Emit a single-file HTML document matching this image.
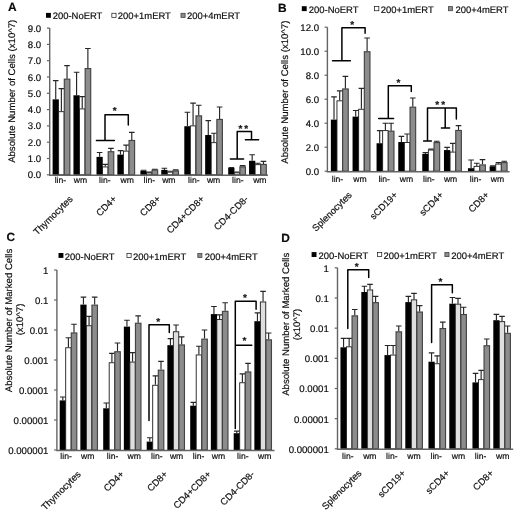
<!DOCTYPE html>
<html lang="en">
<head>
<meta charset="utf-8">
<title>Figure</title>
<style>
html,body{margin:0;padding:0;background:#fff;}
body{width:520px;height:515px;overflow:hidden;}
svg{display:block;}
svg text{font-family:"Liberation Sans", Arial, Helvetica, sans-serif;fill:#0c0c0c;stroke:#0c0c0c;stroke-width:0.18px;text-rendering:geometricPrecision;}
</style>
</head>
<body>
<svg width="520" height="515" viewBox="0 0 520 515">
<rect width="520" height="515" fill="#fff"/>
<g opacity="0.999">
<rect x="52.60" y="99.33" width="6.25" height="75.47" fill="#000"/>
<path d="M55.73 99.33V80.59M52.93 80.59H58.52" stroke="#262626" stroke-width="1.15" fill="none"/>
<rect x="58.65" y="111.68" width="5.45" height="63.12" fill="#fff" stroke="#1c1c1c" stroke-width="0.9"/>
<path d="M61.38 111.23V88.57M58.58 88.57H64.17" stroke="#262626" stroke-width="1.15" fill="none"/>
<rect x="64.30" y="79.18" width="5.55" height="95.62" fill="#8c8c8c" stroke="#444444" stroke-width="1.15"/>
<path d="M67.03 78.63V65.59M64.23 65.59H69.83" stroke="#262626" stroke-width="1.15" fill="none"/>
<text x="60.40" y="182.90" font-size="8.6" text-anchor="middle">lin-</text>
<rect x="73.45" y="95.26" width="6.25" height="79.54" fill="#000"/>
<path d="M76.58 95.26V72.27M73.78 72.27H79.38" stroke="#262626" stroke-width="1.15" fill="none"/>
<rect x="79.50" y="108.91" width="5.45" height="65.89" fill="#fff" stroke="#1c1c1c" stroke-width="0.9"/>
<path d="M82.23 108.46V96.56M79.43 96.56H85.03" stroke="#262626" stroke-width="1.15" fill="none"/>
<rect x="85.15" y="68.59" width="5.55" height="106.22" fill="#8c8c8c" stroke="#444444" stroke-width="1.15"/>
<path d="M87.88 68.04V48.48M85.08 48.48H90.67" stroke="#262626" stroke-width="1.15" fill="none"/>
<text x="80.40" y="182.90" font-size="8.6" text-anchor="middle">wm</text>
<text x="0" y="0" transform="translate(73.30 199.60) rotate(-45)" font-size="9.45" text-anchor="end">Thymocytes</text>
<rect x="96.50" y="156.87" width="6.25" height="17.93" fill="#000"/>
<path d="M99.62 156.87V152.47M96.83 152.47H102.42" stroke="#262626" stroke-width="1.15" fill="none"/>
<rect x="102.55" y="166.94" width="5.45" height="7.86" fill="#fff" stroke="#1c1c1c" stroke-width="0.9"/>
<path d="M105.28 166.49V164.37M102.48 164.37H108.08" stroke="#262626" stroke-width="1.15" fill="none"/>
<rect x="108.20" y="151.72" width="5.55" height="23.08" fill="#8c8c8c" stroke="#444444" stroke-width="1.15"/>
<path d="M110.92 151.17V148.39M108.12 148.39H113.72" stroke="#262626" stroke-width="1.15" fill="none"/>
<text x="104.80" y="182.90" font-size="8.6" text-anchor="middle">lin-</text>
<rect x="117.35" y="154.59" width="6.25" height="20.21" fill="#000"/>
<path d="M120.48 154.59V150.68M117.68 150.68H123.28" stroke="#262626" stroke-width="1.15" fill="none"/>
<rect x="123.40" y="151.13" width="5.45" height="23.67" fill="#fff" stroke="#1c1c1c" stroke-width="0.9"/>
<path d="M126.13 150.68V145.13M123.33 145.13H128.93" stroke="#262626" stroke-width="1.15" fill="none"/>
<rect x="129.05" y="140.47" width="5.55" height="34.33" fill="#8c8c8c" stroke="#444444" stroke-width="1.15"/>
<path d="M131.78 139.92V132.42M128.97 132.42H134.58" stroke="#262626" stroke-width="1.15" fill="none"/>
<text x="127.30" y="182.90" font-size="8.6" text-anchor="middle">wm</text>
<text x="0" y="0" transform="translate(117.20 199.60) rotate(-45)" font-size="9.45" text-anchor="end">CD4+</text>
<rect x="140.40" y="170.81" width="6.25" height="3.99" fill="#000"/>
<path d="M143.52 170.81V170.24M140.72 170.24H146.32" stroke="#262626" stroke-width="1.15" fill="none"/>
<rect x="146.45" y="172.97" width="5.45" height="1.83" fill="#fff" stroke="#1c1c1c" stroke-width="0.9"/>
<path d="M149.17 172.52V172.19M146.37 172.19H151.97" stroke="#262626" stroke-width="1.15" fill="none"/>
<rect x="152.10" y="170.13" width="5.55" height="4.67" fill="#8c8c8c" stroke="#444444" stroke-width="1.15"/>
<path d="M154.82 169.58V169.26M152.02 169.26H157.62" stroke="#262626" stroke-width="1.15" fill="none"/>
<text x="149.30" y="182.90" font-size="8.6" text-anchor="middle">lin-</text>
<rect x="161.25" y="169.91" width="6.25" height="4.89" fill="#000"/>
<path d="M164.37 169.91V168.28M161.57 168.28H167.17" stroke="#262626" stroke-width="1.15" fill="none"/>
<rect x="167.30" y="172.15" width="5.45" height="2.65" fill="#fff" stroke="#1c1c1c" stroke-width="0.9"/>
<path d="M170.02 171.70V171.21M167.22 171.21H172.82" stroke="#262626" stroke-width="1.15" fill="none"/>
<rect x="172.95" y="170.95" width="5.55" height="3.85" fill="#8c8c8c" stroke="#444444" stroke-width="1.15"/>
<path d="M175.67 170.40V169.91M172.87 169.91H178.47" stroke="#262626" stroke-width="1.15" fill="none"/>
<text x="168.85" y="182.90" font-size="8.6" text-anchor="middle">wm</text>
<text x="0" y="0" transform="translate(161.10 199.60) rotate(-45)" font-size="9.45" text-anchor="end">CD8+</text>
<rect x="184.30" y="126.23" width="6.25" height="48.57" fill="#000"/>
<path d="M187.42 126.23V112.21M184.62 112.21H190.22" stroke="#262626" stroke-width="1.15" fill="none"/>
<rect x="190.35" y="125.86" width="5.45" height="48.94" fill="#fff" stroke="#1c1c1c" stroke-width="0.9"/>
<path d="M193.07 125.41V103.08M190.27 103.08H195.88" stroke="#262626" stroke-width="1.15" fill="none"/>
<rect x="196.00" y="115.86" width="5.55" height="58.95" fill="#8c8c8c" stroke="#444444" stroke-width="1.15"/>
<path d="M198.72 115.31V105.20M195.92 105.20H201.53" stroke="#262626" stroke-width="1.15" fill="none"/>
<text x="193.85" y="182.90" font-size="8.6" text-anchor="middle">lin-</text>
<rect x="205.15" y="135.03" width="6.25" height="39.77" fill="#000"/>
<path d="M208.27 135.03V120.68M205.47 120.68H211.07" stroke="#262626" stroke-width="1.15" fill="none"/>
<rect x="211.20" y="142.65" width="5.45" height="32.15" fill="#fff" stroke="#1c1c1c" stroke-width="0.9"/>
<path d="M213.92 142.20V133.24M211.12 133.24H216.72" stroke="#262626" stroke-width="1.15" fill="none"/>
<rect x="216.85" y="119.44" width="5.55" height="55.36" fill="#8c8c8c" stroke="#444444" stroke-width="1.15"/>
<path d="M219.57 118.89V106.99M216.77 106.99H222.38" stroke="#262626" stroke-width="1.15" fill="none"/>
<text x="213.60" y="182.90" font-size="8.6" text-anchor="middle">wm</text>
<text x="0" y="0" transform="translate(205.00 199.60) rotate(-45)" font-size="9.45" text-anchor="end">CD4+CD8+</text>
<rect x="228.20" y="167.95" width="6.25" height="6.85" fill="#000"/>
<path d="M231.32 167.95V167.63M228.52 167.63H234.12" stroke="#262626" stroke-width="1.15" fill="none"/>
<rect x="234.25" y="172.81" width="5.45" height="1.99" fill="#fff" stroke="#1c1c1c" stroke-width="0.9"/>
<path d="M236.97 172.36V172.03M234.17 172.03H239.78" stroke="#262626" stroke-width="1.15" fill="none"/>
<rect x="239.90" y="166.87" width="5.55" height="7.93" fill="#8c8c8c" stroke="#444444" stroke-width="1.15"/>
<path d="M242.62 166.32V165.67M239.82 165.67H245.43" stroke="#262626" stroke-width="1.15" fill="none"/>
<text x="237.80" y="182.90" font-size="8.6" text-anchor="middle">lin-</text>
<rect x="249.05" y="160.78" width="6.25" height="14.02" fill="#000"/>
<path d="M252.17 160.78V154.75M249.37 154.75H254.97" stroke="#262626" stroke-width="1.15" fill="none"/>
<rect x="255.10" y="164.66" width="5.45" height="10.14" fill="#fff" stroke="#1c1c1c" stroke-width="0.9"/>
<path d="M257.82 164.21V163.23M255.02 163.23H260.62" stroke="#262626" stroke-width="1.15" fill="none"/>
<rect x="260.75" y="164.43" width="5.55" height="10.37" fill="#8c8c8c" stroke="#444444" stroke-width="1.15"/>
<path d="M263.47 163.88V161.43M260.67 161.43H266.27" stroke="#262626" stroke-width="1.15" fill="none"/>
<text x="259.85" y="182.90" font-size="8.6" text-anchor="middle">wm</text>
<text x="0" y="0" transform="translate(248.90 199.60) rotate(-45)" font-size="9.45" text-anchor="end">CD4-CD8-</text>
<path d="M49.70 28.00V175.30H268.00" stroke="#646464" stroke-width="1.4" fill="none"/>
<path d="M46.90 174.80H49.70" stroke="#646464" stroke-width="1.2"/>
<text x="41.20" y="178.30" font-size="9.65" text-anchor="end">0.0</text>
<path d="M46.90 158.50H49.70" stroke="#646464" stroke-width="1.2"/>
<text x="41.20" y="162.00" font-size="9.65" text-anchor="end">1.0</text>
<path d="M46.90 142.20H49.70" stroke="#646464" stroke-width="1.2"/>
<text x="41.20" y="145.70" font-size="9.65" text-anchor="end">2.0</text>
<path d="M46.90 125.90H49.70" stroke="#646464" stroke-width="1.2"/>
<text x="41.20" y="129.40" font-size="9.65" text-anchor="end">3.0</text>
<path d="M46.90 109.60H49.70" stroke="#646464" stroke-width="1.2"/>
<text x="41.20" y="113.10" font-size="9.65" text-anchor="end">4.0</text>
<path d="M46.90 93.30H49.70" stroke="#646464" stroke-width="1.2"/>
<text x="41.20" y="96.80" font-size="9.65" text-anchor="end">5.0</text>
<path d="M46.90 77.00H49.70" stroke="#646464" stroke-width="1.2"/>
<text x="41.20" y="80.50" font-size="9.65" text-anchor="end">6.0</text>
<path d="M46.90 60.70H49.70" stroke="#646464" stroke-width="1.2"/>
<text x="41.20" y="64.20" font-size="9.65" text-anchor="end">7.0</text>
<path d="M46.90 44.40H49.70" stroke="#646464" stroke-width="1.2"/>
<text x="41.20" y="47.90" font-size="9.65" text-anchor="end">8.0</text>
<path d="M46.90 28.10H49.70" stroke="#646464" stroke-width="1.2"/>
<text x="41.20" y="31.60" font-size="9.65" text-anchor="end">9.0</text>
<path d="M96.4 140.6H114.4M105 140.6V114.8H128.3V125" stroke="#000" stroke-width="1.5" fill="none" stroke-linejoin="round" stroke-linecap="round"/>
<path d="M230.4 159H243.6M237.2 159V131.5H251.5V139.7M245.4 139.7H258.6" stroke="#000" stroke-width="1.5" fill="none" stroke-linejoin="round" stroke-linecap="round"/>
<text x="114.80" y="114.30" font-size="10.0" text-anchor="middle" font-weight="bold">*</text>
<text x="240.40" y="131.60" font-size="10.0" text-anchor="middle" font-weight="bold">*</text>
<text x="246.10" y="131.60" font-size="10.0" text-anchor="middle" font-weight="bold">*</text>
<rect x="330.85" y="119.60" width="6.30" height="51.60" fill="#000"/>
<path d="M334.00 119.60V96.80M331.20 96.80H336.80" stroke="#262626" stroke-width="1.15" fill="none"/>
<rect x="336.95" y="100.85" width="5.50" height="70.35" fill="#fff" stroke="#1c1c1c" stroke-width="0.9"/>
<path d="M339.70 100.40V90.80M336.90 90.80H342.50" stroke="#262626" stroke-width="1.15" fill="none"/>
<rect x="342.65" y="88.95" width="5.60" height="82.25" fill="#8c8c8c" stroke="#444444" stroke-width="1.15"/>
<path d="M345.40 88.40V76.40M342.60 76.40H348.20" stroke="#262626" stroke-width="1.15" fill="none"/>
<text x="337.50" y="181.90" font-size="8.6" text-anchor="middle">lin-</text>
<rect x="352.55" y="116.60" width="6.30" height="54.60" fill="#000"/>
<path d="M355.70 116.60V110.48M352.90 110.48H358.50" stroke="#262626" stroke-width="1.15" fill="none"/>
<rect x="358.65" y="109.25" width="5.50" height="61.95" fill="#fff" stroke="#1c1c1c" stroke-width="0.9"/>
<path d="M361.40 108.80V88.40M358.60 88.40H364.20" stroke="#262626" stroke-width="1.15" fill="none"/>
<rect x="364.35" y="51.75" width="5.60" height="119.45" fill="#8c8c8c" stroke="#444444" stroke-width="1.15"/>
<path d="M367.10 51.20V38.00M364.30 38.00H369.90" stroke="#262626" stroke-width="1.15" fill="none"/>
<text x="359.90" y="181.90" font-size="8.6" text-anchor="middle">wm</text>
<text x="0" y="0" transform="translate(352.45 195.70) rotate(-45)" font-size="9.45" text-anchor="end">Splenocytes</text>
<rect x="376.55" y="143.24" width="6.30" height="27.96" fill="#000"/>
<path d="M379.70 143.24V130.64M376.90 130.64H382.50" stroke="#262626" stroke-width="1.15" fill="none"/>
<rect x="382.65" y="130.61" width="5.50" height="40.59" fill="#fff" stroke="#1c1c1c" stroke-width="0.9"/>
<path d="M385.40 130.16V123.20M382.60 123.20H388.20" stroke="#262626" stroke-width="1.15" fill="none"/>
<rect x="388.35" y="131.19" width="5.60" height="40.01" fill="#8c8c8c" stroke="#444444" stroke-width="1.15"/>
<path d="M391.10 130.64V123.20M388.30 123.20H393.90" stroke="#262626" stroke-width="1.15" fill="none"/>
<text x="384.20" y="181.90" font-size="8.6" text-anchor="middle">lin-</text>
<rect x="398.25" y="142.04" width="6.30" height="29.16" fill="#000"/>
<path d="M401.40 142.04V136.40M398.60 136.40H404.20" stroke="#262626" stroke-width="1.15" fill="none"/>
<rect x="404.35" y="142.49" width="5.50" height="28.71" fill="#fff" stroke="#1c1c1c" stroke-width="0.9"/>
<path d="M407.10 142.04V134.00M404.30 134.00H409.90" stroke="#262626" stroke-width="1.15" fill="none"/>
<rect x="410.05" y="107.19" width="5.60" height="64.01" fill="#8c8c8c" stroke="#444444" stroke-width="1.15"/>
<path d="M412.80 106.64V98.00M410.00 98.00H415.60" stroke="#262626" stroke-width="1.15" fill="none"/>
<text x="406.50" y="181.90" font-size="8.6" text-anchor="middle">wm</text>
<text x="0" y="0" transform="translate(398.15 195.70) rotate(-45)" font-size="9.45" text-anchor="end">sCD19+</text>
<rect x="422.25" y="153.92" width="6.30" height="17.28" fill="#000"/>
<path d="M425.40 153.92V152.60M422.60 152.60H428.20" stroke="#262626" stroke-width="1.15" fill="none"/>
<rect x="428.35" y="150.05" width="5.50" height="21.15" fill="#fff" stroke="#1c1c1c" stroke-width="0.9"/>
<path d="M431.10 149.60V149.12M428.30 149.12H433.90" stroke="#262626" stroke-width="1.15" fill="none"/>
<rect x="434.05" y="142.59" width="5.60" height="28.61" fill="#8c8c8c" stroke="#444444" stroke-width="1.15"/>
<path d="M436.80 142.04V141.20M434.00 141.20H439.60" stroke="#262626" stroke-width="1.15" fill="none"/>
<text x="428.85" y="181.90" font-size="8.6" text-anchor="middle">lin-</text>
<rect x="443.95" y="150.08" width="6.30" height="21.12" fill="#000"/>
<path d="M447.10 150.08V147.32M444.30 147.32H449.90" stroke="#262626" stroke-width="1.15" fill="none"/>
<rect x="450.05" y="152.09" width="5.50" height="19.11" fill="#fff" stroke="#1c1c1c" stroke-width="0.9"/>
<path d="M452.80 151.64V143.36M450.00 143.36H455.60" stroke="#262626" stroke-width="1.15" fill="none"/>
<rect x="455.75" y="130.47" width="5.60" height="40.73" fill="#8c8c8c" stroke="#444444" stroke-width="1.15"/>
<path d="M458.50 129.92V125.60M455.70 125.60H461.30" stroke="#262626" stroke-width="1.15" fill="none"/>
<text x="450.60" y="181.90" font-size="8.6" text-anchor="middle">wm</text>
<text x="0" y="0" transform="translate(443.85 195.70) rotate(-45)" font-size="9.45" text-anchor="end">sCD4+</text>
<rect x="467.95" y="168.20" width="6.30" height="3.00" fill="#000"/>
<path d="M471.10 168.20V160.04M468.30 160.04H473.90" stroke="#262626" stroke-width="1.15" fill="none"/>
<rect x="474.05" y="166.37" width="5.50" height="4.83" fill="#fff" stroke="#1c1c1c" stroke-width="0.9"/>
<path d="M476.80 165.92V163.28M474.00 163.28H479.60" stroke="#262626" stroke-width="1.15" fill="none"/>
<rect x="479.75" y="164.91" width="5.60" height="6.29" fill="#8c8c8c" stroke="#444444" stroke-width="1.15"/>
<path d="M482.50 164.36V159.68M479.70 159.68H485.30" stroke="#262626" stroke-width="1.15" fill="none"/>
<text x="475.60" y="181.90" font-size="8.6" text-anchor="middle">lin-</text>
<rect x="489.65" y="166.28" width="6.30" height="4.92" fill="#000"/>
<path d="M492.80 166.28V165.92M490.00 165.92H495.60" stroke="#262626" stroke-width="1.15" fill="none"/>
<rect x="495.75" y="164.09" width="5.50" height="7.11" fill="#fff" stroke="#1c1c1c" stroke-width="0.9"/>
<path d="M498.50 163.64V162.56M495.70 162.56H501.30" stroke="#262626" stroke-width="1.15" fill="none"/>
<rect x="501.45" y="162.63" width="5.60" height="8.57" fill="#8c8c8c" stroke="#444444" stroke-width="1.15"/>
<path d="M504.20 162.08V161.24M501.40 161.24H507.00" stroke="#262626" stroke-width="1.15" fill="none"/>
<text x="497.40" y="181.90" font-size="8.6" text-anchor="middle">wm</text>
<text x="0" y="0" transform="translate(489.55 195.70) rotate(-45)" font-size="9.45" text-anchor="end">CD8+</text>
<path d="M327.40 27.20V171.70H509.60" stroke="#646464" stroke-width="1.4" fill="none"/>
<path d="M324.60 171.20H327.40" stroke="#646464" stroke-width="1.2"/>
<text x="319.10" y="175.10" font-size="9.65" text-anchor="end">0.0</text>
<path d="M324.60 147.20H327.40" stroke="#646464" stroke-width="1.2"/>
<text x="319.10" y="151.10" font-size="9.65" text-anchor="end">2.0</text>
<path d="M324.60 123.20H327.40" stroke="#646464" stroke-width="1.2"/>
<text x="319.10" y="127.10" font-size="9.65" text-anchor="end">4.0</text>
<path d="M324.60 99.20H327.40" stroke="#646464" stroke-width="1.2"/>
<text x="319.10" y="103.10" font-size="9.65" text-anchor="end">6.0</text>
<path d="M324.60 75.20H327.40" stroke="#646464" stroke-width="1.2"/>
<text x="319.10" y="79.10" font-size="9.65" text-anchor="end">8.0</text>
<path d="M324.60 51.20H327.40" stroke="#646464" stroke-width="1.2"/>
<text x="319.10" y="55.10" font-size="9.65" text-anchor="end">10.0</text>
<path d="M324.60 27.20H327.40" stroke="#646464" stroke-width="1.2"/>
<text x="319.10" y="31.10" font-size="9.65" text-anchor="end">12.0</text>
<path d="M332.5 60.7H350.4M341.9 60.7V27.8H365.1V33.2" stroke="#000" stroke-width="1.5" fill="none" stroke-linejoin="round" stroke-linecap="round"/>
<path d="M378.7 118.5H393.6M388.3 118.5V85.8H411.3V91.5" stroke="#000" stroke-width="1.5" fill="none" stroke-linejoin="round" stroke-linecap="round"/>
<path d="M423.6 140.9H431.4M427.5 140.9V107.9H456.35V119M445.2 107.9V128.1M441.4 128.1H449.6" stroke="#000" stroke-width="1.5" fill="none" stroke-linejoin="round" stroke-linecap="round"/>
<text x="352.15" y="28.20" font-size="10.0" text-anchor="middle" font-weight="bold">*</text>
<text x="398.40" y="86.20" font-size="10.0" text-anchor="middle" font-weight="bold">*</text>
<text x="437.20" y="107.50" font-size="10.0" text-anchor="middle" font-weight="bold">*</text>
<text x="443.15" y="107.50" font-size="10.0" text-anchor="middle" font-weight="bold">*</text>
<rect x="59.70" y="400.40" width="6.20" height="49.60" fill="#000"/>
<path d="M62.80 400.40V397.00M60.00 397.00H65.60" stroke="#262626" stroke-width="1.15" fill="none"/>
<rect x="65.70" y="347.75" width="5.40" height="102.25" fill="#fff" stroke="#1c1c1c" stroke-width="0.9"/>
<path d="M68.40 347.30V337.70M65.60 337.70H71.20" stroke="#262626" stroke-width="1.15" fill="none"/>
<rect x="71.30" y="332.95" width="5.50" height="117.05" fill="#8c8c8c" stroke="#444444" stroke-width="1.15"/>
<path d="M74.00 332.40V324.20M71.20 324.20H76.80" stroke="#262626" stroke-width="1.15" fill="none"/>
<text x="66.10" y="459.10" font-size="8.6" text-anchor="middle">lin-</text>
<rect x="80.35" y="304.60" width="6.20" height="145.40" fill="#000"/>
<path d="M83.45 304.60V297.10M80.65 297.10H86.25" stroke="#262626" stroke-width="1.15" fill="none"/>
<rect x="86.35" y="325.75" width="5.40" height="124.25" fill="#dedede" stroke="#1c1c1c" stroke-width="0.9"/>
<path d="M89.05 325.30V316.30M86.25 316.30H91.85" stroke="#262626" stroke-width="1.15" fill="none"/>
<rect x="91.95" y="305.15" width="5.50" height="144.85" fill="#8c8c8c" stroke="#444444" stroke-width="1.15"/>
<path d="M94.65 304.60V297.10M91.85 297.10H97.45" stroke="#262626" stroke-width="1.15" fill="none"/>
<text x="87.75" y="459.10" font-size="8.6" text-anchor="middle">wm</text>
<text x="0" y="0" transform="translate(81.22 474.80) rotate(-45)" font-size="9.45" text-anchor="end">Thymocytes</text>
<rect x="103.20" y="408.30" width="6.20" height="41.70" fill="#000"/>
<path d="M106.30 408.30V403.00M103.50 403.00H109.10" stroke="#262626" stroke-width="1.15" fill="none"/>
<rect x="109.20" y="362.75" width="5.40" height="87.25" fill="#fff" stroke="#1c1c1c" stroke-width="0.9"/>
<path d="M111.90 362.30V353.30M109.10 353.30H114.70" stroke="#262626" stroke-width="1.15" fill="none"/>
<rect x="114.80" y="351.75" width="5.50" height="98.25" fill="#8c8c8c" stroke="#444444" stroke-width="1.15"/>
<path d="M117.50 351.20V343.00M114.70 343.00H120.30" stroke="#262626" stroke-width="1.15" fill="none"/>
<text x="112.60" y="459.10" font-size="8.6" text-anchor="middle">lin-</text>
<rect x="123.85" y="326.60" width="6.20" height="123.40" fill="#000"/>
<path d="M126.95 326.60V320.20M124.15 320.20H129.75" stroke="#262626" stroke-width="1.15" fill="none"/>
<rect x="129.85" y="362.05" width="5.40" height="87.95" fill="#dedede" stroke="#1c1c1c" stroke-width="0.9"/>
<path d="M132.55 361.60V352.60M129.75 352.60H135.35" stroke="#262626" stroke-width="1.15" fill="none"/>
<rect x="135.45" y="323.25" width="5.50" height="126.75" fill="#8c8c8c" stroke="#444444" stroke-width="1.15"/>
<path d="M138.15 322.70V315.90M135.35 315.90H140.95" stroke="#262626" stroke-width="1.15" fill="none"/>
<text x="134.30" y="459.10" font-size="8.6" text-anchor="middle">wm</text>
<text x="0" y="0" transform="translate(124.72 474.80) rotate(-45)" font-size="9.45" text-anchor="end">CD4+</text>
<rect x="146.70" y="441.60" width="6.20" height="8.40" fill="#000"/>
<path d="M149.80 441.60V437.70M147.00 437.70H152.60" stroke="#262626" stroke-width="1.15" fill="none"/>
<rect x="152.70" y="385.25" width="5.40" height="64.75" fill="#fff" stroke="#1c1c1c" stroke-width="0.9"/>
<path d="M155.40 384.80V375.80M152.60 375.80H158.20" stroke="#262626" stroke-width="1.15" fill="none"/>
<rect x="158.30" y="370.15" width="5.50" height="79.85" fill="#8c8c8c" stroke="#444444" stroke-width="1.15"/>
<path d="M161.00 369.60V361.30M158.20 361.30H163.80" stroke="#262626" stroke-width="1.15" fill="none"/>
<text x="156.80" y="459.10" font-size="8.6" text-anchor="middle">lin-</text>
<rect x="167.35" y="345.20" width="6.20" height="104.80" fill="#000"/>
<path d="M170.45 345.20V338.60M167.65 338.60H173.25" stroke="#262626" stroke-width="1.15" fill="none"/>
<rect x="173.35" y="331.75" width="5.40" height="118.25" fill="#dedede" stroke="#1c1c1c" stroke-width="0.9"/>
<path d="M176.05 331.30V325.00M173.25 325.00H178.85" stroke="#262626" stroke-width="1.15" fill="none"/>
<rect x="178.95" y="344.95" width="5.50" height="105.05" fill="#8c8c8c" stroke="#444444" stroke-width="1.15"/>
<path d="M181.65 344.40V336.80M178.85 336.80H184.45" stroke="#262626" stroke-width="1.15" fill="none"/>
<text x="176.60" y="459.10" font-size="8.6" text-anchor="middle">wm</text>
<text x="0" y="0" transform="translate(168.22 474.80) rotate(-45)" font-size="9.45" text-anchor="end">CD8+</text>
<rect x="190.20" y="405.70" width="6.20" height="44.30" fill="#000"/>
<path d="M193.30 405.70V402.30M190.50 402.30H196.10" stroke="#262626" stroke-width="1.15" fill="none"/>
<rect x="196.20" y="354.95" width="5.40" height="95.05" fill="#fff" stroke="#1c1c1c" stroke-width="0.9"/>
<path d="M198.90 354.50V346.20M196.10 346.20H201.70" stroke="#262626" stroke-width="1.15" fill="none"/>
<rect x="201.80" y="339.15" width="5.50" height="110.85" fill="#8c8c8c" stroke="#444444" stroke-width="1.15"/>
<path d="M204.50 338.60V330.00M201.70 330.00H207.30" stroke="#262626" stroke-width="1.15" fill="none"/>
<text x="198.60" y="459.10" font-size="8.6" text-anchor="middle">lin-</text>
<rect x="210.85" y="314.10" width="6.20" height="135.90" fill="#000"/>
<path d="M213.95 314.10V306.50M211.15 306.50H216.75" stroke="#262626" stroke-width="1.15" fill="none"/>
<rect x="216.85" y="319.55" width="5.40" height="130.45" fill="#dedede" stroke="#1c1c1c" stroke-width="0.9"/>
<path d="M219.55 319.10V314.80M216.75 314.80H222.35" stroke="#262626" stroke-width="1.15" fill="none"/>
<rect x="222.45" y="311.35" width="5.50" height="138.65" fill="#8c8c8c" stroke="#444444" stroke-width="1.15"/>
<path d="M225.15 310.80V302.70M222.35 302.70H227.95" stroke="#262626" stroke-width="1.15" fill="none"/>
<text x="218.50" y="459.10" font-size="8.6" text-anchor="middle">wm</text>
<text x="0" y="0" transform="translate(211.72 474.80) rotate(-45)" font-size="9.45" text-anchor="end">CD4+CD8+</text>
<rect x="233.70" y="433.20" width="6.20" height="16.80" fill="#000"/>
<path d="M236.80 433.20V431.10M234.00 431.10H239.60" stroke="#262626" stroke-width="1.15" fill="none"/>
<rect x="239.70" y="382.75" width="5.40" height="67.25" fill="#fff" stroke="#1c1c1c" stroke-width="0.9"/>
<path d="M242.40 382.30V373.90M239.60 373.90H245.20" stroke="#262626" stroke-width="1.15" fill="none"/>
<rect x="245.30" y="371.95" width="5.50" height="78.05" fill="#8c8c8c" stroke="#444444" stroke-width="1.15"/>
<path d="M248.00 371.40V363.30M245.20 363.30H250.80" stroke="#262626" stroke-width="1.15" fill="none"/>
<text x="242.80" y="459.10" font-size="8.6" text-anchor="middle">lin-</text>
<rect x="254.35" y="321.20" width="6.20" height="128.80" fill="#000"/>
<path d="M257.45 321.20V312.80M254.65 312.80H260.25" stroke="#262626" stroke-width="1.15" fill="none"/>
<rect x="260.35" y="301.95" width="5.40" height="148.05" fill="#dedede" stroke="#1c1c1c" stroke-width="0.9"/>
<path d="M263.05 301.50V291.40M260.25 291.40H265.85" stroke="#262626" stroke-width="1.15" fill="none"/>
<rect x="265.95" y="339.85" width="5.50" height="110.15" fill="#8c8c8c" stroke="#444444" stroke-width="1.15"/>
<path d="M268.65 339.30V333.00M265.85 333.00H271.45" stroke="#262626" stroke-width="1.15" fill="none"/>
<text x="264.75" y="459.10" font-size="8.6" text-anchor="middle">wm</text>
<text x="0" y="0" transform="translate(255.22 474.80) rotate(-45)" font-size="9.45" text-anchor="end">CD4-CD8-</text>
<path d="M56.90 270.00V450.50H274.50" stroke="#646464" stroke-width="1.4" fill="none"/>
<path d="M54.10 270.00H56.90" stroke="#646464" stroke-width="1.2"/>
<text x="48.40" y="273.90" font-size="9.65" text-anchor="end">1</text>
<path d="M54.10 300.00H56.90" stroke="#646464" stroke-width="1.2"/>
<text x="48.40" y="303.90" font-size="9.65" text-anchor="end">0.1</text>
<path d="M54.10 330.00H56.90" stroke="#646464" stroke-width="1.2"/>
<text x="48.40" y="333.90" font-size="9.65" text-anchor="end">0.01</text>
<path d="M54.10 360.00H56.90" stroke="#646464" stroke-width="1.2"/>
<text x="48.40" y="363.90" font-size="9.65" text-anchor="end">0.001</text>
<path d="M54.10 390.00H56.90" stroke="#646464" stroke-width="1.2"/>
<text x="48.40" y="393.90" font-size="9.65" text-anchor="end">0.0001</text>
<path d="M54.10 420.00H56.90" stroke="#646464" stroke-width="1.2"/>
<text x="48.40" y="423.90" font-size="9.65" text-anchor="end">0.00001</text>
<path d="M54.10 450.00H56.90" stroke="#646464" stroke-width="1.2"/>
<text x="48.40" y="453.90" font-size="9.65" text-anchor="end">0.000001</text>
<path d="M149 420.6V324.7H169.3V332.4" stroke="#000" stroke-width="1.5" fill="none" stroke-linejoin="round" stroke-linecap="round"/>
<path d="M235.3 428.5V301.2H256.1V309.3M235.3 345.35H251.8" stroke="#000" stroke-width="1.5" fill="none" stroke-linejoin="round" stroke-linecap="round"/>
<text x="158.30" y="324.65" font-size="10.0" text-anchor="middle" font-weight="bold">*</text>
<text x="244.90" y="301.40" font-size="10.0" text-anchor="middle" font-weight="bold">*</text>
<text x="244.50" y="344.00" font-size="10.0" text-anchor="middle" font-weight="bold">*</text>
<rect x="340.45" y="347.30" width="6.20" height="101.50" fill="#000"/>
<path d="M343.55 347.30V338.30M340.75 338.30H346.35" stroke="#262626" stroke-width="1.15" fill="none"/>
<rect x="346.45" y="346.85" width="5.40" height="101.95" fill="#fff" stroke="#1c1c1c" stroke-width="0.9"/>
<path d="M349.15 346.40V338.30M346.35 338.30H351.95" stroke="#262626" stroke-width="1.15" fill="none"/>
<rect x="352.05" y="315.85" width="5.50" height="132.95" fill="#8c8c8c" stroke="#444444" stroke-width="1.15"/>
<path d="M354.75 315.30V309.50M351.95 309.50H357.55" stroke="#262626" stroke-width="1.15" fill="none"/>
<text x="347.80" y="459.30" font-size="8.6" text-anchor="middle">lin-</text>
<rect x="361.30" y="292.00" width="6.20" height="156.80" fill="#000"/>
<path d="M364.40 292.00V286.20M361.60 286.20H367.20" stroke="#262626" stroke-width="1.15" fill="none"/>
<rect x="367.30" y="289.95" width="5.40" height="158.85" fill="#dedede" stroke="#1c1c1c" stroke-width="0.9"/>
<path d="M370.00 289.50V284.30M367.20 284.30H372.80" stroke="#262626" stroke-width="1.15" fill="none"/>
<rect x="372.90" y="302.65" width="5.50" height="146.15" fill="#8c8c8c" stroke="#444444" stroke-width="1.15"/>
<path d="M375.60 302.10V296.30M372.80 296.30H378.40" stroke="#262626" stroke-width="1.15" fill="none"/>
<text x="369.85" y="459.30" font-size="8.6" text-anchor="middle">wm</text>
<text x="0" y="0" transform="translate(362.07 473.80) rotate(-45)" font-size="9.45" text-anchor="end">Splenocytes</text>
<rect x="384.45" y="355.10" width="6.20" height="93.70" fill="#000"/>
<path d="M387.55 355.10V345.50M384.75 345.50H390.35" stroke="#262626" stroke-width="1.15" fill="none"/>
<rect x="390.45" y="355.05" width="5.40" height="93.75" fill="#fff" stroke="#1c1c1c" stroke-width="0.9"/>
<path d="M393.15 354.60V345.50M390.35 345.50H395.95" stroke="#262626" stroke-width="1.15" fill="none"/>
<rect x="396.05" y="331.85" width="5.50" height="116.95" fill="#8c8c8c" stroke="#444444" stroke-width="1.15"/>
<path d="M398.75 331.30V326.00M395.95 326.00H401.55" stroke="#262626" stroke-width="1.15" fill="none"/>
<text x="391.80" y="459.30" font-size="8.6" text-anchor="middle">lin-</text>
<rect x="405.30" y="302.10" width="6.20" height="146.70" fill="#000"/>
<path d="M408.40 302.10V296.30M405.60 296.30H411.20" stroke="#262626" stroke-width="1.15" fill="none"/>
<rect x="411.30" y="299.85" width="5.40" height="148.95" fill="#dedede" stroke="#1c1c1c" stroke-width="0.9"/>
<path d="M414.00 299.40V293.40M411.20 293.40H416.80" stroke="#262626" stroke-width="1.15" fill="none"/>
<rect x="416.90" y="312.05" width="5.50" height="136.75" fill="#8c8c8c" stroke="#444444" stroke-width="1.15"/>
<path d="M419.60 311.50V305.60M416.80 305.60H422.40" stroke="#262626" stroke-width="1.15" fill="none"/>
<text x="414.00" y="459.30" font-size="8.6" text-anchor="middle">wm</text>
<text x="0" y="0" transform="translate(406.07 473.80) rotate(-45)" font-size="9.45" text-anchor="end">sCD19+</text>
<rect x="428.45" y="361.70" width="6.20" height="87.10" fill="#000"/>
<path d="M431.55 361.70V352.80M428.75 352.80H434.35" stroke="#262626" stroke-width="1.15" fill="none"/>
<rect x="434.45" y="363.75" width="5.40" height="85.05" fill="#fff" stroke="#1c1c1c" stroke-width="0.9"/>
<path d="M437.15 363.30V355.90M434.35 355.90H439.95" stroke="#262626" stroke-width="1.15" fill="none"/>
<rect x="440.05" y="328.55" width="5.50" height="120.25" fill="#8c8c8c" stroke="#444444" stroke-width="1.15"/>
<path d="M442.75 328.00V322.10M439.95 322.10H445.55" stroke="#262626" stroke-width="1.15" fill="none"/>
<text x="436.25" y="459.30" font-size="8.6" text-anchor="middle">lin-</text>
<rect x="449.30" y="303.70" width="6.20" height="145.10" fill="#000"/>
<path d="M452.40 303.70V297.50M449.60 297.50H455.20" stroke="#262626" stroke-width="1.15" fill="none"/>
<rect x="455.30" y="304.15" width="5.40" height="144.65" fill="#dedede" stroke="#1c1c1c" stroke-width="0.9"/>
<path d="M458.00 303.70V298.30M455.20 298.30H460.80" stroke="#262626" stroke-width="1.15" fill="none"/>
<rect x="460.90" y="314.55" width="5.50" height="134.25" fill="#8c8c8c" stroke="#444444" stroke-width="1.15"/>
<path d="M463.60 314.00V307.20M460.80 307.20H466.40" stroke="#262626" stroke-width="1.15" fill="none"/>
<text x="458.50" y="459.30" font-size="8.6" text-anchor="middle">wm</text>
<text x="0" y="0" transform="translate(450.07 473.80) rotate(-45)" font-size="9.45" text-anchor="end">sCD4+</text>
<rect x="472.45" y="382.40" width="6.20" height="66.40" fill="#000"/>
<path d="M475.55 382.40V373.30M472.75 373.30H478.35" stroke="#262626" stroke-width="1.15" fill="none"/>
<rect x="478.45" y="379.65" width="5.40" height="69.15" fill="#fff" stroke="#1c1c1c" stroke-width="0.9"/>
<path d="M481.15 379.20V370.30M478.35 370.30H483.95" stroke="#262626" stroke-width="1.15" fill="none"/>
<rect x="484.05" y="345.75" width="5.50" height="103.05" fill="#8c8c8c" stroke="#444444" stroke-width="1.15"/>
<path d="M486.75 345.20V339.00M483.95 339.00H489.55" stroke="#262626" stroke-width="1.15" fill="none"/>
<text x="480.60" y="459.30" font-size="8.6" text-anchor="middle">lin-</text>
<rect x="493.30" y="320.20" width="6.20" height="128.60" fill="#000"/>
<path d="M496.40 320.20V314.40M493.60 314.40H499.20" stroke="#262626" stroke-width="1.15" fill="none"/>
<rect x="499.30" y="321.65" width="5.40" height="127.15" fill="#dedede" stroke="#1c1c1c" stroke-width="0.9"/>
<path d="M502.00 321.20V316.30M499.20 316.30H504.80" stroke="#262626" stroke-width="1.15" fill="none"/>
<rect x="504.90" y="333.35" width="5.50" height="115.45" fill="#8c8c8c" stroke="#444444" stroke-width="1.15"/>
<path d="M507.60 332.80V326.00M504.80 326.00H510.40" stroke="#262626" stroke-width="1.15" fill="none"/>
<text x="502.70" y="459.30" font-size="8.6" text-anchor="middle">wm</text>
<text x="0" y="0" transform="translate(494.07 473.80) rotate(-45)" font-size="9.45" text-anchor="end">CD8+</text>
<path d="M337.50 267.80V449.30H513.20" stroke="#646464" stroke-width="1.4" fill="none"/>
<path d="M334.70 267.80H337.50" stroke="#646464" stroke-width="1.2"/>
<text x="328.80" y="271.70" font-size="9.65" text-anchor="end">1</text>
<path d="M334.70 297.97H337.50" stroke="#646464" stroke-width="1.2"/>
<text x="328.80" y="301.87" font-size="9.65" text-anchor="end">0.1</text>
<path d="M334.70 328.14H337.50" stroke="#646464" stroke-width="1.2"/>
<text x="328.80" y="332.04" font-size="9.65" text-anchor="end">0.01</text>
<path d="M334.70 358.31H337.50" stroke="#646464" stroke-width="1.2"/>
<text x="328.80" y="362.21" font-size="9.65" text-anchor="end">0.001</text>
<path d="M334.70 388.48H337.50" stroke="#646464" stroke-width="1.2"/>
<text x="328.80" y="392.38" font-size="9.65" text-anchor="end">0.0001</text>
<path d="M334.70 418.65H337.50" stroke="#646464" stroke-width="1.2"/>
<text x="328.80" y="422.55" font-size="9.65" text-anchor="end">0.00001</text>
<path d="M334.70 448.82H337.50" stroke="#646464" stroke-width="1.2"/>
<text x="328.80" y="452.72" font-size="9.65" text-anchor="end">0.000001</text>
<path d="M347.8 328.5V269.8H368.7V277.4" stroke="#000" stroke-width="1.5" fill="none" stroke-linejoin="round" stroke-linecap="round"/>
<path d="M431.6 342.5V284.7H452.35V292.7" stroke="#000" stroke-width="1.5" fill="none" stroke-linejoin="round" stroke-linecap="round"/>
<text x="356.70" y="269.70" font-size="10.0" text-anchor="middle" font-weight="bold">*</text>
<text x="440.50" y="285.00" font-size="10.0" text-anchor="middle" font-weight="bold">*</text>
<text x="8.00" y="10.70" font-size="11.9" text-anchor="start" font-weight="bold">A</text>
<text x="278.10" y="11.50" font-size="11.9" text-anchor="start" font-weight="bold">B</text>
<text x="6.40" y="241.30" font-size="11.9" text-anchor="start" font-weight="bold">C</text>
<text x="281.30" y="241.50" font-size="11.9" text-anchor="start" font-weight="bold">D</text>
<rect x="46.00" y="12.90" width="4.9" height="4.9" fill="#000"/>
<text x="52.70" y="19.40" font-size="9.45" text-anchor="start">200-NoERT</text>
<rect x="111.85" y="13.25" width="4.2" height="4.2" fill="#fff" stroke="#111" stroke-width="0.7"/>
<text x="117.80" y="19.40" font-size="9.45" text-anchor="start">200+1mERT</text>
<rect x="181.00" y="13.30" width="4.1" height="4.1" fill="#8c8c8c" stroke="#444444" stroke-width="0.8"/>
<text x="187.00" y="19.40" font-size="9.45" text-anchor="start">200+4mERT</text>
<rect x="301.80" y="6.20" width="4.9" height="4.9" fill="#000"/>
<text x="308.75" y="12.70" font-size="9.45" text-anchor="start">200-NoERT</text>
<rect x="374.65" y="6.55" width="4.2" height="4.2" fill="#fff" stroke="#111" stroke-width="0.7"/>
<text x="380.70" y="12.70" font-size="9.45" text-anchor="start">200+1mERT</text>
<rect x="448.40" y="6.60" width="4.1" height="4.1" fill="#8c8c8c" stroke="#444444" stroke-width="0.8"/>
<text x="455.40" y="12.70" font-size="9.45" text-anchor="start">200+4mERT</text>
<rect x="58.50" y="253.00" width="4.9" height="4.9" fill="#000"/>
<text x="64.80" y="259.50" font-size="9.45" text-anchor="start">200-NoERT</text>
<rect x="126.95" y="253.35" width="4.2" height="4.2" fill="#fff" stroke="#111" stroke-width="0.7"/>
<text x="133.10" y="259.50" font-size="9.45" text-anchor="start">200+1mERT</text>
<rect x="197.80" y="253.40" width="4.1" height="4.1" fill="#8c8c8c" stroke="#444444" stroke-width="0.8"/>
<text x="204.70" y="259.50" font-size="9.45" text-anchor="start">200+4mERT</text>
<rect x="311.60" y="252.10" width="4.9" height="4.9" fill="#000"/>
<text x="318.60" y="258.60" font-size="9.45" text-anchor="start">200-NoERT</text>
<rect x="377.55" y="252.45" width="4.2" height="4.2" fill="#fff" stroke="#111" stroke-width="0.7"/>
<text x="383.60" y="258.60" font-size="9.45" text-anchor="start">200+1mERT</text>
<rect x="444.90" y="252.50" width="4.1" height="4.1" fill="#8c8c8c" stroke="#444444" stroke-width="0.8"/>
<text x="451.20" y="258.60" font-size="9.45" text-anchor="start">200+4mERT</text>
<text x="0" y="0" transform="translate(15.10 91.30) rotate(-90)" font-size="9.6" text-anchor="middle">Absolute Number of Cells (x10^7)</text>
<text x="0" y="0" transform="translate(287.60 92.20) rotate(-90)" font-size="9.6" text-anchor="middle">Absolute Number of Cells (x10^7)</text>
<text x="0" y="0" transform="translate(12.40 320.50) rotate(-90)" font-size="9.6" text-anchor="middle">Absolute Number of Marked Cells</text>
<text x="0" y="0" transform="translate(23.40 319.50) rotate(-90)" font-size="9.6" text-anchor="middle">(x10^7)</text>
<text x="0" y="0" transform="translate(289.30 324.30) rotate(-90)" font-size="9.57" text-anchor="middle">Absolute Number of Marked Cells</text>
<text x="0" y="0" transform="translate(300.20 324.50) rotate(-90)" font-size="9.57" text-anchor="middle">(x10^7)</text>
</g>
</svg>
</body>
</html>
